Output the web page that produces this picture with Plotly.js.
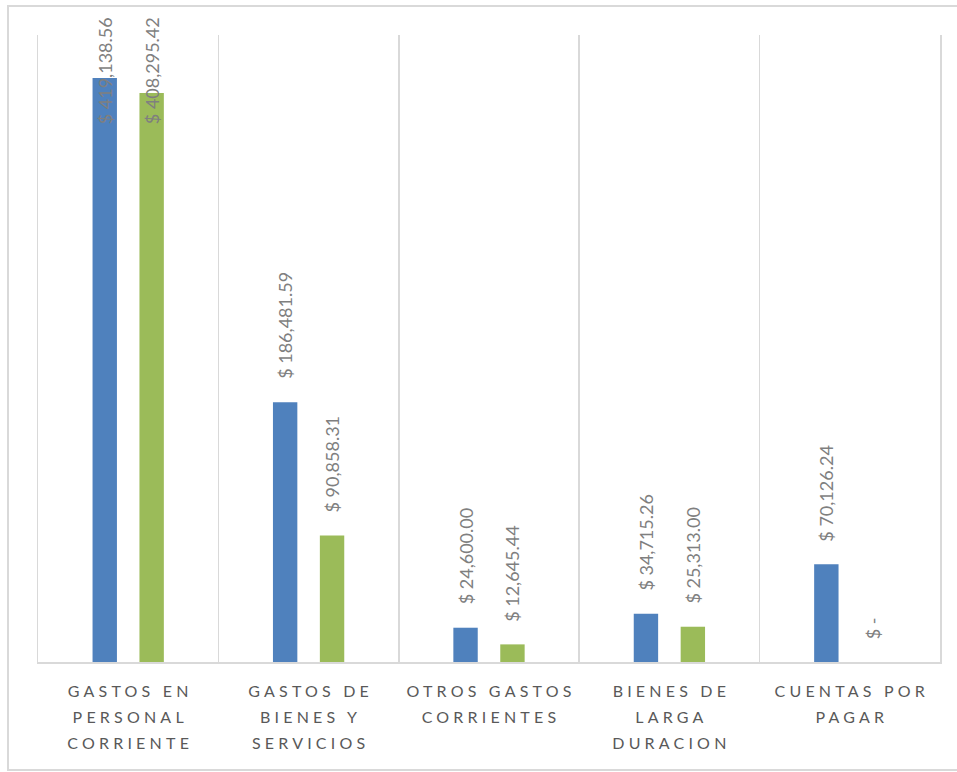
<!DOCTYPE html>
<html>
<head>
<meta charset="utf-8">
<script src="https://cdn.plot.ly/plotly-3.0.1.min.js"></script>
<style>
  html, body { margin: 0; padding: 0; background: #ffffff; overflow: hidden; }
  #chart { position: absolute; left: 0; top: 0; width: 957px; height: 772px; }
  #frame { position: absolute; left: 7px; top: 5px; width: 970px; height: 766px;
           border: 2px solid #d9d9d9; box-sizing: border-box; pointer-events: none; }
  .xtick text { letter-spacing: 4.2px; }
</style>
</head>
<body>
<div id="chart"></div>
<div id="frame"></div>
<script>
// ---- data ----
const categories = [
  "GASTOS EN<br>PERSONAL<br>CORRIENTE",
  "GASTOS DE<br>BIENES Y<br>SERVICIOS",
  "OTROS GASTOS<br>CORRIENTES",
  "BIENES DE<br>LARGA<br>DURACION",
  "CUENTAS POR<br>PAGAR"
];
const seriesBlue  = [419138.56, 186481.59, 24600.00, 34715.26, 70126.24];
const seriesGreen = [408295.42, 90858.31, 12645.44, 25313.00, 0];

// ---- style ----
const BLUE = "#4F81BD", GREEN = "#9BBB59";
const BARGAP = 0.48, GROUPGAP = 0.48;
const YMAX = 450000;
const TOP_CLAMP = 330000; // labels above this are pushed into the chart top
const LABEL_FONT = { family: "Lato, 'Open Sans', sans-serif", size: 18, color: "#7f7f7f" };
const LINE_PX = 26;

function fmt(v) {
  if (v === 0) return "$ -";
  return "$ " + v.toLocaleString("en-US", { minimumFractionDigits: 2, maximumFractionDigits: 2 });
}

const traces = [
  { type: "bar", x: categories, y: seriesBlue, marker: { color: BLUE }, hoverinfo: "none" },
  { type: "bar", x: categories, y: seriesGreen, marker: { color: GREEN }, hoverinfo: "none" }
];

const slotOffset = (1 - BARGAP) / 4;
const annotations = [];
[seriesBlue, seriesGreen].forEach((series, s) => {
  const off = s === 0 ? -slotOffset : slotOffset;
  series.forEach((v, i) => {
    const a = {
      x: i + off, xref: "x",
      text: fmt(v), textangle: -90, showarrow: false,
      font: LABEL_FONT, xanchor: "center"
    };
    if (v > TOP_CLAMP) {
      a.yref = "paper"; a.y = 1; a.yanchor = "top"; a.yshift = 20;
    } else {
      a.yref = "y"; a.y = v; a.yanchor = "bottom"; a.yshift = 21;
    }
    annotations.push(a);
  });
});

const layout = {
  width: 957, height: 772,
  margin: { l: 38, r: 17, t: 35, b: 110 },
  paper_bgcolor: "rgba(0,0,0,0)", plot_bgcolor: "rgba(0,0,0,0)",
  showlegend: false,
  barmode: "group", bargap: BARGAP, bargroupgap: GROUPGAP,
  xaxis: {
    type: "category", tickson: "boundaries", ticks: "",
    showgrid: true, gridcolor: "#d9d9d9", gridwidth: 1.5,
    showline: true, linecolor: "#d9d9d9", linewidth: 1.5,
    tickfont: { family: "Lato, 'Open Sans', sans-serif", size: 16, color: "#595959" },
    ticklabelstandoff: 14, ticklabelshift: 2,
    fixedrange: true
  },
  yaxis: {
    range: [0, YMAX], showgrid: false, zeroline: false, showticklabels: false,
    ticks: "", showline: true, mirror: true, linecolor: "#d9d9d9", linewidth: 1.5,
    fixedrange: true
  },
  annotations: annotations
};

Plotly.newPlot("chart", traces, layout, { staticPlot: true, displayModeBar: false }).then(() => {
  document.querySelectorAll(".xtick text tspan.line").forEach((t) => {
    const dy = t.getAttribute("dy");
    if (dy && dy.indexOf("em") > 0) {
      const n = Math.round(parseFloat(dy) / 1.3);
      if (n !== 0) t.setAttribute("dy", (n * LINE_PX) + "px");
    }
  });
});
</script>
</body>
</html>
